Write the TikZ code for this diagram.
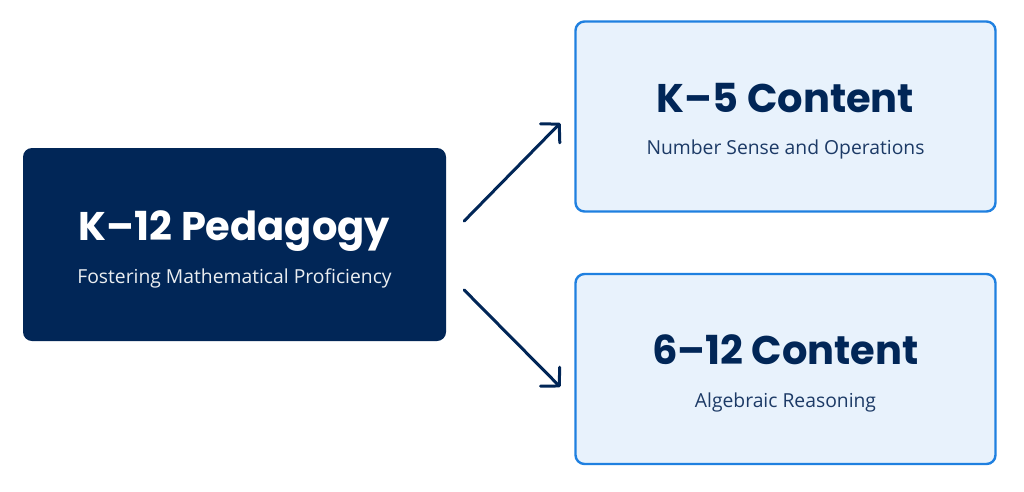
\documentclass[tikz,border=0pt]{standalone}
\usepackage{fontspec}
\setmainfont{Open Sans}
\newfontfamily\titlefont{Poppins}[UprightFont=* Bold]
\usetikzlibrary{arrows.meta,calc}
\definecolor{navy}{HTML}{012657}
\definecolor{subnavy}{HTML}{1C3A66}
\definecolor{lightfill}{HTML}{E8F2FC}
\definecolor{bluedge}{HTML}{1F80E0}
\tikzset{
  darkbox/.style={rectangle, rounded corners=9pt, fill=navy, draw=none, inner sep=0pt},
  lightbox/.style={rectangle, rounded corners=9pt, fill=lightfill, draw=bluedge, line width=2.4pt, inner sep=0pt},
  titletext/.style={anchor=base, inner sep=0pt, font=\titlefont\fontsize{40}{44}\selectfont},
  subtext/.style={anchor=base, inner sep=0pt, font=\fontsize{19.3}{23}\selectfont},
  conn/.style={draw=navy, line width=3pt, line cap=round, line join=round, -{Straight Barb[length=13pt,width=27pt,line cap=round,line join=round]}}
}
\begin{document}
\begin{tikzpicture}[x=1pt,y=-1pt]
\useasboundingbox (0,0) rectangle (1024,491);
\fill[white] (0,0) rectangle (1024,491);
\node[darkbox, minimum width=423pt, minimum height=193pt] (left) at (234.5,244.5) {};
\node[lightbox, minimum width=420pt, minimum height=190pt] (top) at (785.5,116.5) {};
\node[lightbox, minimum width=420pt, minimum height=190pt] (bot) at (785.5,369) {};
\node[titletext, text=white] (lt) at (234.5,240) {K–12 Pedagogy};
\node[subtext, text=white!92!navy] (ls) at (234.5,283) {Fostering Mathematical Proficiency};
\node[titletext, text=navy] (tt) at (785.5,112) {K–5 Content};
\node[subtext, text=subnavy] (ts) at (785.5,154) {Number Sense and Operations};
\node[titletext, text=navy] (bt) at (785.5,364) {6–12 Content};
\node[subtext, text=subnavy] (bs) at (785.5,407) {Algebraic Reasoning};
\coordinate (a1s) at ($(left.east)+(18,-23.5)$);
\coordinate (a1e) at ($(top.west)+(-14,6.5)$);
\coordinate (a2s) at ($(left.east)+(18,45.5)$);
\coordinate (a2e) at ($(bot.west)+(-14,18)$);
\draw[conn] (a1s) -- (a1e);
\draw[conn] (a2s) -- (a2e);
\end{tikzpicture}
\end{document}
